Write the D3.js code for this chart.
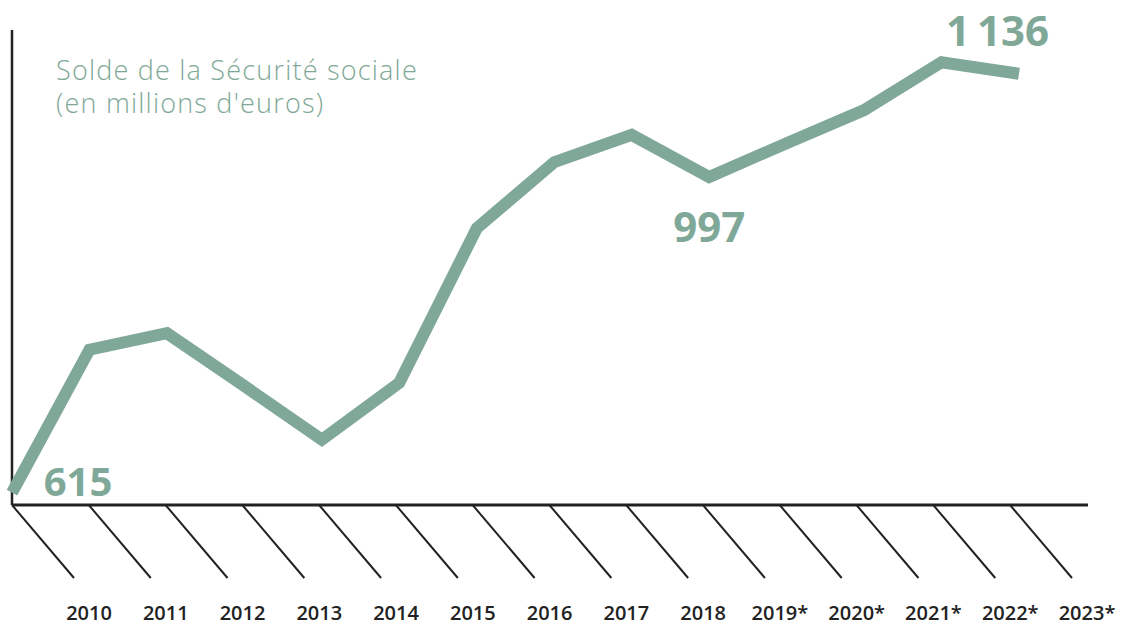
<!DOCTYPE html>
<html>
<head>
<meta charset="utf-8">
<script src="https://cdn.jsdelivr.net/npm/d3@7"></script>
<style>
  html, body { margin: 0; padding: 0; background: #ffffff; }
  svg { display: block; }
</style>
</head>
<body>
<svg id="chart" width="1125" height="625"></svg>
<script>
const years = ["2010","2011","2012","2013","2014","2015","2016","2017","2018","2019*","2020*","2021*","2022*","2023*"];
const solde = [615, 788, 808, 744, 679, 748, 935, 1015, 1048, 997, 1038, 1078, 1136, 1122];
const highlighted = ["2010", "2019*", "2022*"];
const titleLines = ["Solde de la Sécurité sociale", "(en millions d'euros)"];

const green = "#80a898";
const ink = "#222222";

const svg = d3.select("#chart");

const x = d3.scalePoint().domain(years).range([12, 1019]);
const y = d3.scaleLinear().domain([600, 1175]).range([505, 30]);

// axes
svg.append("line")
  .attr("x1", 12).attr("x2", 12)
  .attr("y1", y(1175)).attr("y2", y(600))
  .attr("stroke", ink).attr("stroke-width", 2.5);
svg.append("line")
  .attr("x1", 12).attr("x2", 1088)
  .attr("y1", y(600)).attr("y2", y(600))
  .attr("stroke", ink).attr("stroke-width", 3);

// slanted ticks and labels
const tickX = d3.scalePoint().domain(years).range([12, 1010]);
const ticks = svg.append("g").selectAll("g").data(years).join("g");
ticks.append("line")
  .attr("x1", d => tickX(d)).attr("y1", y(600))
  .attr("x2", d => tickX(d) + 62).attr("y2", y(600) + 73)
  .attr("stroke", ink).attr("stroke-width", 2);
ticks.append("text")
  .attr("x", d => tickX(d) + 77)
  .attr("y", 620)
  .attr("text-anchor", "middle")
  .attr("font-family", "'Open Sans', Lato, sans-serif")
  .attr("font-weight", 600)
  .attr("font-size", 20)
  .attr("fill", ink)
  .text(d => d);

// title
svg.append("text")
  .attr("font-family", "'Open Sans', Lato, sans-serif")
  .attr("font-weight", 300)
  .attr("font-size", 27)
  .attr("letter-spacing", 1.2)
  .attr("fill", green)
  .selectAll("tspan").data(titleLines).join("tspan")
  .attr("x", 56)
  .attr("y", (d, i) => 80 + i * 33)
  .text(d => d);

// line
const data = years.map((yr, i) => ({ year: yr, value: solde[i] }));
svg.append("path")
  .datum(data)
  .attr("fill", "none")
  .attr("stroke", green)
  .attr("stroke-width", 12)
  .attr("stroke-linejoin", "miter")
  .attr("stroke-linecap", "butt")
  .attr("d", d3.line().x(d => x(d.year)).y(d => y(d.value)));

// value labels
const fmt = v => d3.format(",")(v).replace(",", "\u2009");
const labelPos = {
  "2010": { dx: 66, dy: 3, size: 40 },
  "2019*": { dx: 0, dy: 65, size: 42 },
  "2022*": { dx: 56, dy: -16, size: 42 }
};
svg.append("g").selectAll("text")
  .data(data.filter(d => highlighted.includes(d.year)))
  .join("text")
  .attr("x", d => x(d.year) + labelPos[d.year].dx)
  .attr("y", d => y(d.value) + labelPos[d.year].dy)
  .attr("text-anchor", "middle")
  .attr("font-family", "'Open Sans', Lato, sans-serif")
  .attr("font-weight", 700)
  .attr("font-size", d => labelPos[d.year].size)
  .attr("fill", green)
  .text(d => fmt(d.value));
</script>
</body>
</html>
